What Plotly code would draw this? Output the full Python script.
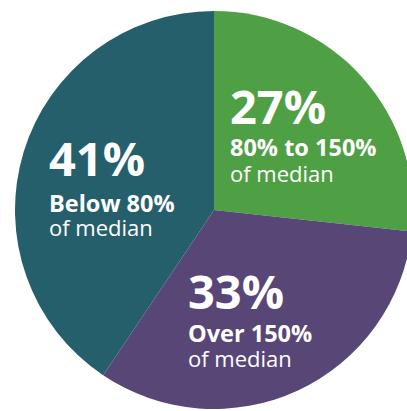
import plotly.graph_objects as go

# Data
categories = ["80% to 150%", "Over 150%", "Below 80%"]
values = [27, 33, 41]
pct_labels = ["27%", "33%", "41%"]
sub_labels = ["of median", "of median", "of median"]
colors = ["#4f9f45", "#584677", "#255f6c"]

# figure slightly larger than the window so the pie can be clipped on the right/bottom like the reference
W, H = 420, 416

# pie centre (214, 210) px, radius 199
cx, cy, r = 214, 210, 199

fig = go.Figure()
fig.add_trace(go.Pie(
    labels=categories,
    values=values,
    sort=False,
    direction="clockwise",
    rotation=0,
    marker=dict(colors=colors, line=dict(width=0)),
    textinfo="none",
    hoverinfo="skip",
    showlegend=False,
    domain=dict(x=[(cx - r) / W, (cx + r) / W],
                y=[1 - (cy + r) / H, 1 - (cy - r) / H]),
))

# label anchor positions in pixels (left x, vertical centres of the three lines)
anchors = [
    (229, 106, 147, 173),
    (187, 291, 333, 358),
    (48, 158, 203, 227),
]

FONT = "Open Sans"
for i in range(len(categories)):
    x, y1, y2, y3 = anchors[i]
    for txt, yy, size, weight in [
        (pct_labels[i], y1, 47, 700),
        (categories[i], y2, 23.5, 700),
        (sub_labels[i], y3, 22, 400),
    ]:
        fig.add_annotation(
            x=x / W, y=1 - yy / H, xref="paper", yref="paper",
            xanchor="left", yanchor="middle",
            text=txt, showarrow=False, borderpad=0,
            font=dict(family=FONT, size=size, color="white", weight=weight),
        )

fig.update_layout(
    width=W, height=H,
    margin=dict(l=0, r=0, t=0, b=0),
    paper_bgcolor="white",
    plot_bgcolor="white",
)

fig.write_html(
    "out.html",
    config={"displayModeBar": False},
    post_script="document.body.style.margin='0';document.body.style.overflow='hidden';document.documentElement.style.overflow='hidden';",
)
